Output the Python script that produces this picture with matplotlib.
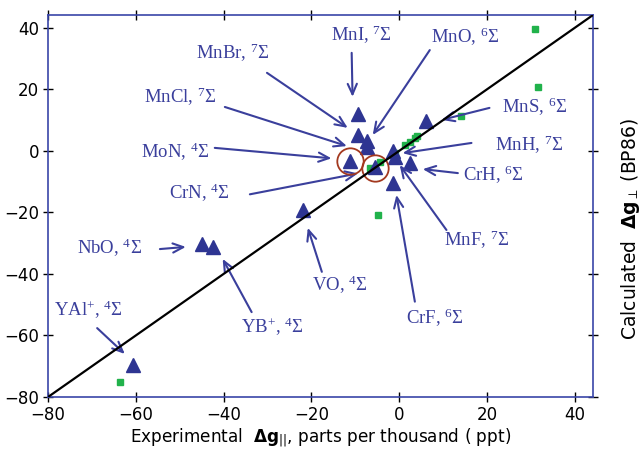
import matplotlib.pyplot as plt

plt.rcParams['mathtext.fontset'] = 'custom'
plt.rcParams['mathtext.rm'] = 'Liberation Serif'
plt.rcParams['mathtext.it'] = 'Liberation Serif:italic'
plt.rcParams['mathtext.bf'] = 'DejaVu Sans:bold'
plt.rcParams['mathtext.sf'] = 'DejaVu Sans'

# calculated (BP86) vs experimental delta g, ppt
tri_x = [-60.6, -45.0, -42.4, -21.9, -9.35, -9.35, -7.4, -7.25, -11.1, -5.55, -1.4, -1.0, 2.4, -1.4, 6.2]
tri_y = [-69.6, -30.2, -31.1, -19.2, 12.0, 5.2, 3.3, 1.3, -3.3, -5.1, 0.1, -1.9, -4.0, -10.5, 9.9]

# other molecules (green squares)
sq_x = [-63.6, -4.8, -6.7, -4.4, -1.0, 1.3, 2.4, 3.6, 4.2, 14.2, 30.9, 31.6]
sq_y = [-75.1, -20.8, -5.6, -3.5, -0.7, 2.0, 3.0, 4.1, 4.9, 11.4, 39.6, 20.9]

# circled points (MoN, CrN)
circ_x = [-11.1, -5.55]
circ_y = [-3.2, -5.6]

names = ['MnI, $^{7}$Σ', 'MnBr, $^{7}$Σ', 'MnCl, $^{7}$Σ', 'MoN, $^{4}$Σ', 'CrN, $^{4}$Σ',
         'MnO, $^{6}$Σ', 'MnS, $^{6}$Σ', 'MnH, $^{7}$Σ', 'CrH, $^{6}$Σ', 'MnF, $^{7}$Σ',
         'CrF, $^{6}$Σ', 'VO, $^{4}$Σ', 'YB$^{+}$, $^{4}$Σ', 'NbO, $^{4}$Σ', 'YAl$^{+}$, $^{4}$Σ']

# where the label sits, where its arrow starts and ends
label_xy = [(-8.5, 37.7), (-37.9, 31.9), (-49.9, 17.6), (-51.1, -0.3), (-45.6, -13.7),
            (15.0, 37.1), (30.9, 14.3), (29.7, 2.0), (21.5, -7.8), (17.7, -28.9),
            (8.1, -54.3), (-13.5, -43.6), (-28.8, -57.2), (-65.9, -31.5), (-70.9, -51.7)]
tail_xy = [(-10.8, 31.9), (-30.1, 25.4), (-39.7, 14.3), (-42.0, 1.0), (-34.0, -14.1),
           (7.0, 32.8), (20.6, 14.0), (16.5, 2.6), (13.4, -7.2), (10.8, -25.7),
           (3.6, -49.0), (-17.6, -39.3), (-33.6, -52.4), (-54.5, -31.9), (-68.8, -57.6)]
head_xy = [(-10.6, 17.6), (-11.7, 7.5), (-11.9, 1.6), (-15.4, -2.4), (-9.35, -7.3),
           (-6.0, 5.2), (9.7, 10.1), (0.8, -0.7), (5.4, -5.9), (0.15, -4.6),
           (-0.6, -14.3), (-20.8, -25.0), (-40.2, -35.1), (-48.6, -31.2), (-62.5, -66.0)]

blue = '#2e3592'

fig = plt.figure(figsize=(6.42, 4.62), dpi=100)
ax = fig.add_axes([0.0748, 0.1407, 0.9237 - 0.0748, 0.9675 - 0.1407])

ax.plot(sq_x, sq_y, 's', color='#21b24b', markersize=5, zorder=2)
ax.plot(tri_x, tri_y, '^', color=blue, markersize=9.5, zorder=3)
ax.plot(circ_x, circ_y, 'o', mfc='none', mec='#a3391f', mew=1.3, markersize=19, zorder=4)
ax.plot([-80, 45], [-80, 45], color='black', lw=1.6, zorder=5)

for name, lxy, txy, hxy in zip(names, label_xy, tail_xy, head_xy):
    ax.text(lxy[0], lxy[1], name, family='Liberation Serif', fontsize=13.5,
            color='#3a3f9c', ha='center', va='center')
    ax.annotate('', xy=hxy, xytext=txy,
                arrowprops=dict(arrowstyle='->, head_length=0.5, head_width=0.22',
                                color='#3a3f9c', lw=1.5, mutation_scale=15,
                                shrinkA=0, shrinkB=0))

ax.set_xlim(-80, 44.2)
ax.set_ylim(-80, 44.2)
ax.set_xticks(range(-80, 41, 20))
ax.set_yticks(range(-80, 41, 20))
ax.tick_params(direction='inout', length=7, width=1, top=True, right=True,
               labelsize=12, pad=3)
for sp in ax.spines.values():
    sp.set_color('#3a46a8')
    sp.set_linewidth(1.2)

ax.set_xlabel(r'Experimental  $\mathbf{\Delta g}_{\mathsf{||}}$, parts per thousand ( ppt)',
              fontsize=12.2, labelpad=2)
ax.set_ylabel(r'Calculated  $\mathbf{\Delta g}_{\perp}$ (BP86)', fontsize=13.5)
ax.yaxis.set_label_position('right')
ax.yaxis.set_label_coords(1.048, 0.44)

fig.savefig('out.png', dpi=100)
